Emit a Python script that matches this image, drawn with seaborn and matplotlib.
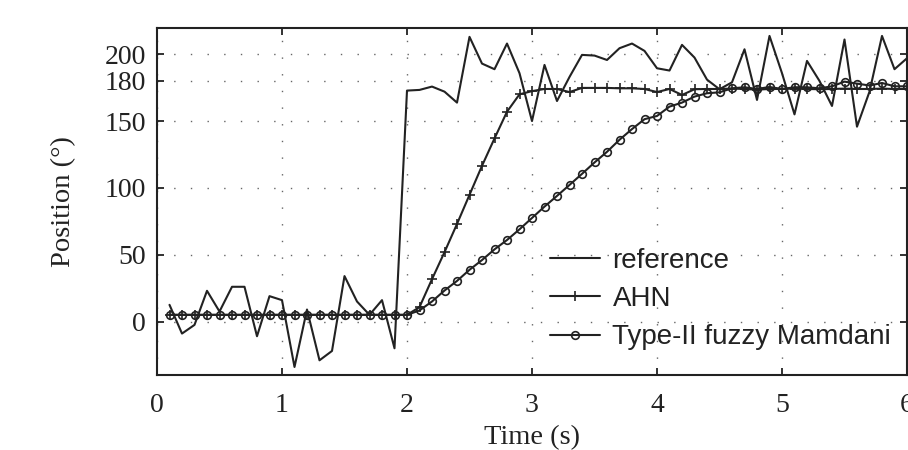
import numpy as np
import pandas as pd
import matplotlib
matplotlib.use("Agg")
import matplotlib.pyplot as plt
import seaborn as sns

# Tiempo (s)
tiempo = [0.1, 0.2, 0.3, 0.4, 0.5, 0.6, 0.7, 0.8, 0.9, 1.0,
          1.1, 1.2, 1.3, 1.4, 1.5, 1.6, 1.7, 1.8, 1.9, 2.0,
          2.1, 2.2, 2.3, 2.4, 2.5, 2.6, 2.7, 2.8, 2.9, 3.0,
          3.1, 3.2, 3.3, 3.4, 3.5, 3.6, 3.7, 3.8, 3.9, 4.0,
          4.1, 4.2, 4.3, 4.4, 4.5, 4.6, 4.7, 4.8, 4.9, 5.0,
          5.1, 5.2, 5.3, 5.4, 5.5, 5.6, 5.7, 5.8, 5.9, 6.0]

# Señal de referencia (con ruido)
referencia = [12.5, -9, -2.5, 23, 7.5, 26, 26, -11, 19, 16,
              -34, 9, -29, -22, 34, 15, 5, 16, -20, 172.8,
              173.3, 175.8, 172, 163.8, 213, 193, 188.8, 208, 185.8, 150,
              192, 165, 183, 199.5, 199, 195.7, 204.5, 208, 202.5, 189.5,
              187.8, 207, 197.5, 181, 173.8, 179, 203.7, 165.8, 213.7, 185.8,
              155, 195, 180, 161.3, 211, 145.8, 172, 213.7, 188.8, 197]

# Respuesta AHN
ahn = [5, 5, 5, 5, 5, 5, 5, 5, 5, 5,
       5, 5, 5, 5, 5, 5, 5, 5, 5, 5,
       10.8, 31.7, 51.9, 73, 94.8, 116.5, 137, 157, 170, 172.4,
       174, 174, 171.7, 174.8, 174.8, 174.8, 174.5, 174.5, 174, 171.7,
       174, 169.5, 173.8, 174, 174, 174.3, 174, 173.5, 174, 174,
       174.3, 174, 173.8, 174, 174.3, 174, 174, 174.3, 174, 174]

# Respuesta Type-II fuzzy Mamdani
mamdani = [5, 5, 5, 5, 5, 5, 5, 5, 5, 5,
           5, 5, 5, 5, 5, 5, 5, 5, 5, 5,
           8.3, 15, 23.2, 30.4, 38.7, 46, 54, 61, 69, 77.5,
           86, 94, 102.2, 110.5, 119, 127, 136, 144, 151.4, 153.8,
           160.8, 163.8, 168.3, 170.8, 171.5, 174.5, 175.3, 174, 175.5, 174,
           175.3, 175.3, 174.5, 176, 179.5, 178, 176.6, 178.5, 176, 176]

y_ticks = [0, 50, 100, 150, 180, 200]
x_ticks = [0, 1, 2, 3, 4, 5, 6]

df = pd.DataFrame({"t": tiempo, "reference": referencia, "AHN": ahn,
                   "Type-II fuzzy Mamdani": mamdani})

sns.set_style("ticks")
plt.rcParams["font.family"] = ["Liberation Serif", "DejaVu Serif"]

fig = plt.figure(figsize=(9.08, 4.5), dpi=100)
ax = fig.add_axes([157 / 908, 1 - 375 / 450, 750 / 908, 347.5 / 450])

color = "#222222"
sns.lineplot(data=df, x="t", y="reference", ax=ax, color=color, lw=1.5,
             linestyle="-", label="reference")
sns.lineplot(data=df, x="t", y="AHN", ax=ax, color=color, lw=1.5,
             linestyle="-", marker="+", markersize=7, markeredgewidth=1.2,
             markeredgecolor=color, label="AHN")
sns.lineplot(data=df, x="t", y="Type-II fuzzy Mamdani", ax=ax, color=color,
             lw=1.5, linestyle="-", marker="o", markersize=5.5,
             markerfacecolor="none", markeredgecolor=color,
             markeredgewidth=1.2, label="Type-II fuzzy Mamdani")

ax.set_xlim(0, 6)
ax.set_ylim(-40, 220)
ax.set_xticks(x_ticks)
ax.set_yticks(y_ticks)
ax.tick_params(direction="in", length=5, width=1.3, labelsize=20,
               top=True, right=True, colors="#222222")
ax.tick_params(axis="x", pad=13)
ax.tick_params(axis="y", pad=8)
for s in ax.spines.values():
    s.set_linewidth(1.5)
    s.set_color("#222222")
ax.grid(True, color="#666666", linewidth=1.0, linestyle=(0, (1, 11)))

ax.set_xlabel("Time (s)", fontsize=20.5, labelpad=5, color="#222222")
ax.set_ylabel("Position (°)", fontsize=20.5, labelpad=20, color="#222222")

leg = ax.legend(loc="center left", bbox_to_anchor=(550 / 908, 1 - 299 / 450),
                bbox_transform=fig.transFigure, frameon=False,
                prop={"family": "Liberation Sans", "size": 20},
                borderpad=0, borderaxespad=0, handlelength=1.8,
                handletextpad=0.45, labelspacing=0.45)
for txt in leg.get_texts():
    txt.set_color("#222222")

plt.savefig("out.png", dpi=100)
